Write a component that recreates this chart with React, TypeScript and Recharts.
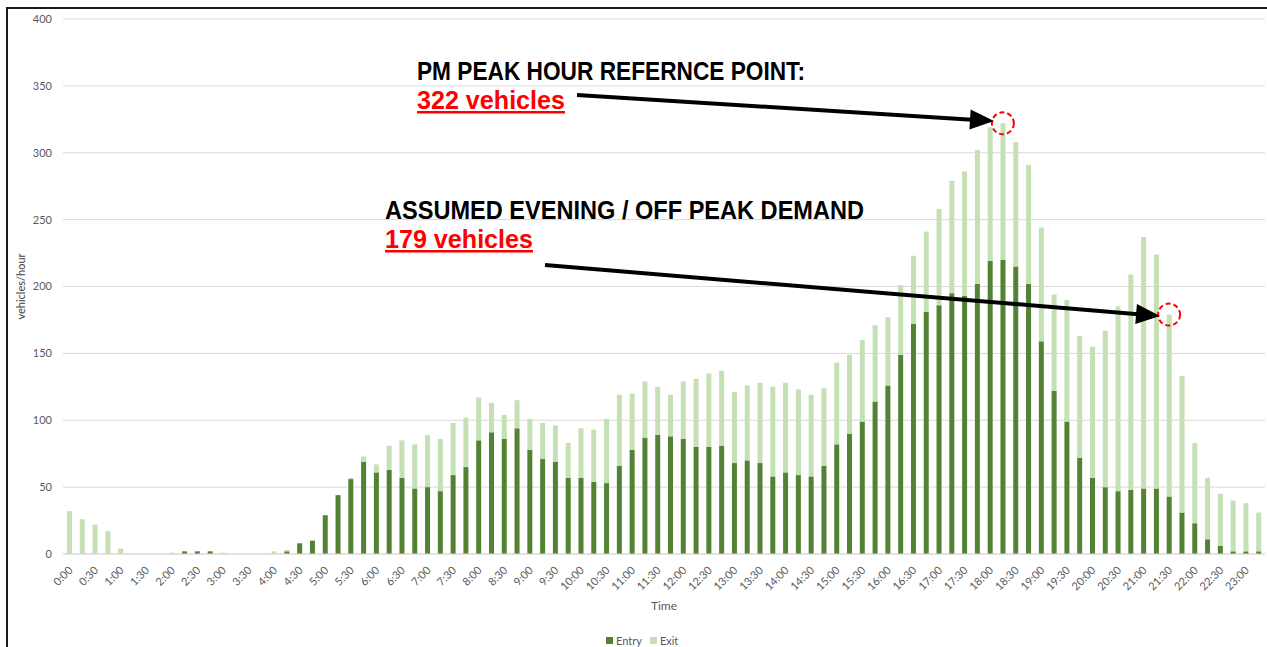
import { BarChart, Bar, XAxis, YAxis, CartesianGrid, Legend, ReferenceDot } from 'recharts';

// 15-minute intervals, 0:00 .. 23:15
const times = [
  '0:00', '0:15', '0:30', '0:45', '1:00', '1:15', '1:30', '1:45',
  '2:00', '2:15', '2:30', '2:45', '3:00', '3:15', '3:30', '3:45',
  '4:00', '4:15', '4:30', '4:45', '5:00', '5:15', '5:30', '5:45',
  '6:00', '6:15', '6:30', '6:45', '7:00', '7:15', '7:30', '7:45',
  '8:00', '8:15', '8:30', '8:45', '9:00', '9:15', '9:30', '9:45',
  '10:00', '10:15', '10:30', '10:45', '11:00', '11:15', '11:30', '11:45',
  '12:00', '12:15', '12:30', '12:45', '13:00', '13:15', '13:30', '13:45',
  '14:00', '14:15', '14:30', '14:45', '15:00', '15:15', '15:30', '15:45',
  '16:00', '16:15', '16:30', '16:45', '17:00', '17:15', '17:30', '17:45',
  '18:00', '18:15', '18:30', '18:45', '19:00', '19:15', '19:30', '19:45',
  '20:00', '20:15', '20:30', '20:45', '21:00', '21:15', '21:30', '21:45',
  '22:00', '22:15', '22:30', '22:45', '23:00', '23:15',
];

const entryCounts = [
  0, 0, 0, 0, 0, 0, 0, 0,
  0, 2, 2, 2, 0, 0, 0, 0,
  0, 2, 8, 10, 29, 44, 56, 69,
  61, 63, 57, 49, 50, 47, 59, 65,
  85, 91, 86, 94, 78, 71, 69, 57,
  57, 54, 53, 66, 78, 87, 89, 88,
  86, 80, 80, 81, 68, 70, 68, 58,
  61, 59, 58, 66, 82, 90, 99, 114,
  126, 149, 172, 181, 186, 195, 193, 202,
  219, 220, 215, 202, 159, 122, 99, 72,
  57, 50, 47, 48, 49, 49, 43, 31,
  23, 11, 6, 2, 2, 2,
];

const exitCounts = [
  32, 26, 22, 17, 4, 0, 0, 0,
  1, 0, 0, 0, 1, 0, 0, 0,
  2, 1, 0, 0, 0, 0, 1, 4,
  6, 18, 28, 33, 39, 39, 39, 37,
  32, 22, 18, 21, 23, 27, 27, 26,
  37, 39, 48, 53, 42, 42, 36, 31,
  43, 51, 55, 56, 53, 56, 60, 67,
  67, 64, 61, 58, 61, 59, 61, 57,
  51, 52, 51, 60, 72, 84, 93, 100,
  100, 102, 93, 89, 85, 72, 91, 91,
  98, 117, 138, 161, 188, 175, 136, 102,
  60, 46, 39, 38, 36, 29,
];

const yTicks = [0, 50, 100, 150, 200, 250, 300, 350, 400];

// highlighted totals (entry + exit)
const pmPeak = { time: '18:15', value: 322 };
const eveningPoint = { time: '21:30', value: 179 };

const data = times.map((time, i) => ({ time, Entry: entryCounts[i], Exit: exitCounts[i] }));

const axisFont = 'Lato, "Liberation Sans", sans-serif';
const noteFont = '"Liberation Sans", Arial, sans-serif';

function TimeTick({ x, y, payload }: any) {
  return (
    <g transform={`translate(${x + 4},${y + 9})`}>
      <text textAnchor="end" transform="rotate(-45)" fill="#595959" fontSize={11} fontFamily={axisFont}>
        {payload.value}
      </text>
    </g>
  );
}

function YTitle({ viewBox }: any) {
  const cy = viewBox.y + viewBox.height / 2;
  return (
    <text
      x={20}
      y={cy}
      transform={`rotate(-90, 20, ${cy})`}
      textAnchor="middle"
      dominantBaseline="central"
      fill="#404040"
      fontSize={11}
      fontFamily={axisFont}
    >
      vehicles/hour
    </text>
  );
}

function LegendContent({ payload }: any) {
  return (
    <div style={{ display: 'flex', alignItems: 'center', gap: 8, fontFamily: axisFont, fontSize: 11, color: '#595959' }}>
      {(payload || []).map((p: any) => (
        <span key={p.value} style={{ display: 'flex', alignItems: 'center', gap: 3 }}>
          <span style={{ width: 7, height: 7, background: p.color, display: 'inline-block' }} />
          {p.value}
        </span>
      ))}
    </div>
  );
}

function Arrow({ x1, y1, x2, y2 }: { x1: number; y1: number; x2: number; y2: number }) {
  const len = Math.hypot(x2 - x1, y2 - y1);
  const ux = (x2 - x1) / len;
  const uy = (y2 - y1) / len;
  const headLen = 24;
  const half = 10;
  const bx = x2 - ux * headLen;
  const by = y2 - uy * headLen;
  const pts = `${x2},${y2} ${bx - uy * half},${by + ux * half} ${bx + uy * half},${by - ux * half}`;
  return (
    <g>
      <line x1={x1} y1={y1} x2={bx + ux * 2} y2={by + uy * 2} stroke="#000" strokeWidth={4} />
      <polygon points={pts} fill="#000" />
    </g>
  );
}

function Notes() {
  return (
    <svg width={1267} height={647} style={{ position: 'absolute', left: 0, top: 0, pointerEvents: 'none' }}>
      <text x={417} y={80} textLength={388} lengthAdjust="spacingAndGlyphs" fontFamily={noteFont} fontWeight={700} fontSize={26} fill="#000">
        PM PEAK HOUR REFERNCE POINT:
      </text>
      <text x={417} y={109} textLength={148} lengthAdjust="spacingAndGlyphs" fontFamily={noteFont} fontWeight={700} fontSize={26} fill="#ff0000">
        322 vehicles
      </text>
      <rect x={417} y={111} width={148} height={2.5} fill="#ff0000" />
      <text x={385} y={219} textLength={479} lengthAdjust="spacingAndGlyphs" fontFamily={noteFont} fontWeight={700} fontSize={26} fill="#000">
        ASSUMED EVENING / OFF PEAK DEMAND
      </text>
      <text x={385} y={248} textLength={148} lengthAdjust="spacingAndGlyphs" fontFamily={noteFont} fontWeight={700} fontSize={26} fill="#ff0000">
        179 vehicles
      </text>
      <rect x={385} y={250} width={148} height={2.5} fill="#ff0000" />
      <Arrow x1={577} y1={95} x2={994} y2={121} />
      <Arrow x1={545} y1={265} x2={1160} y2={316} />
    </svg>
  );
}

export default function App() {
  return (
    <div style={{ position: 'absolute', left: 0, top: 0, width: 1267, height: 647, background: '#fff', overflow: 'hidden' }}>
      <div style={{ position: 'absolute', left: 6, top: 7, width: 1300, height: 700, borderLeft: '2px solid #1a1a1a', borderTop: '2px solid #1a1a1a' }} />
      <BarChart width={1267} height={647} data={data} margin={{ top: 19, right: 2, bottom: 0, left: 8 }} barSize={5}>
        <CartesianGrid vertical={false} stroke="#d9d9d9" />
        <XAxis
          dataKey="time"
          interval={1}
          height={93}
          tickLine={false}
          axisLine={{ stroke: '#d9d9d9' }}
          tick={<TimeTick />}
          label={{ value: 'Time', position: 'insideBottom', offset: 37, fill: '#595959', fontSize: 12, fontFamily: axisFont }}
        />
        <YAxis
          domain={[0, 400]}
          ticks={yTicks}
          width={55}
          tickLine={false}
          axisLine={false}
          tickMargin={5}
          tick={{ fill: '#595959', fontSize: 11, fontFamily: axisFont }}
          label={<YTitle />}
        />
        <Legend
          layout="horizontal"
          verticalAlign="middle"
          align="center"
          content={<LegendContent />}
          wrapperStyle={{ top: 634, left: 606, width: 'auto' }}
        />
        <Bar dataKey="Entry" stackId="t" fill="#548235" isAnimationActive={false} />
        <Bar dataKey="Exit" stackId="t" fill="#c5e0b4" isAnimationActive={false} />
        <ReferenceDot x={pmPeak.time} y={pmPeak.value} r={11} fill="none" stroke="#ff0000" strokeWidth={2} strokeDasharray="5 3" ifOverflow="visible" />
        <ReferenceDot x={eveningPoint.time} y={eveningPoint.value} r={11} fill="none" stroke="#ff0000" strokeWidth={2} strokeDasharray="5 3" ifOverflow="visible" />
      </BarChart>
      <Notes />
    </div>
  );
}
